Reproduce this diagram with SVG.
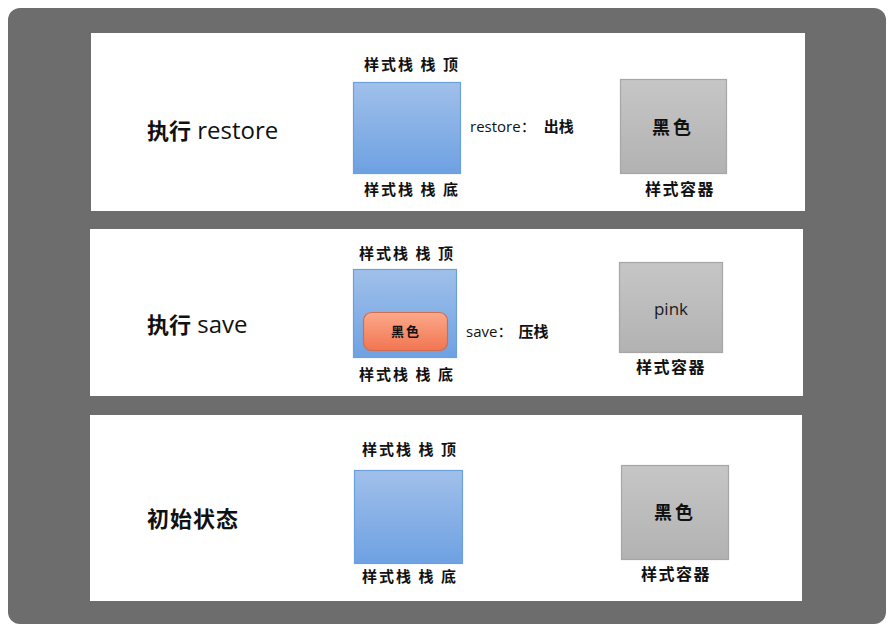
<svg xmlns="http://www.w3.org/2000/svg" width="896" height="632" viewBox="0 0 896 632">
<defs>
<linearGradient id="gBlue" x1="0" y1="0" x2="0" y2="1"><stop offset="0" stop-color="#a0c0ea"/><stop offset="1" stop-color="#6ea1e2"/></linearGradient>
<linearGradient id="gGray" x1="0" y1="0" x2="0" y2="1"><stop offset="0" stop-color="#c6c6c6"/><stop offset="1" stop-color="#b2b2b2"/></linearGradient>
<linearGradient id="gOrange" x1="0" y1="0" x2="0" y2="1"><stop offset="0" stop-color="#fba98a"/><stop offset="1" stop-color="#f27552"/></linearGradient>
</defs>
<style>
.stack{fill:url(#gBlue);stroke:#6d9fdc;stroke-width:1.2}
.box{fill:url(#gGray);stroke:#a6a6a6;stroke-width:1.2}
.item{fill:url(#gOrange);stroke:#cf6d4e;stroke-width:1.2}
.cjk{font-family:"Noto Sans CJK SC",sans-serif;font-weight:700;fill:#111}
.lbl{font-size:15px;letter-spacing:2px}
.title{font-family:"Open Sans","Noto Sans CJK SC",sans-serif;font-size:24px;fill:#111}
.tcjk{font-size:22px}
.op{font-family:"Open Sans","Noto Sans CJK SC",sans-serif;font-size:15px;fill:#111}
</style>
<rect x="0" y="0" width="896" height="632" fill="#ffffff"/>
<rect x="8" y="8" width="878" height="616" rx="12" fill="#6d6d6d"/>

<g id="panel-restore">
<rect x="91" y="33" width="714" height="178" fill="#ffffff"/>
<text class="title" x="147" y="139"><tspan class="cjk tcjk">执行</tspan> restore</text>
<rect class="stack" x="353.5" y="82.5" width="107" height="91"/>
<text class="cjk lbl" x="412" y="70" text-anchor="middle">样式栈 栈 顶</text>
<text class="cjk lbl" x="412" y="195" text-anchor="middle">样式栈 栈 底</text>
<text class="op" x="470" y="132">restore：<tspan class="cjk" dx="8">出栈</tspan></text>
<rect class="box" x="620.5" y="79.5" width="106" height="94"/>
<text class="cjk" x="673" y="134" font-size="18" letter-spacing="3" text-anchor="middle">黑色</text>
<text class="cjk" x="680" y="195" font-size="16" letter-spacing="1.5" text-anchor="middle">样式容器</text>
</g>

<g id="panel-save">
<rect x="90" y="229" width="713" height="167" fill="#ffffff"/>
<text class="title" x="147" y="333"><tspan class="cjk tcjk">执行</tspan> save</text>
<rect class="stack" x="353.5" y="269.5" width="103" height="88"/>
<rect class="item" x="363.5" y="312.5" width="84" height="38" rx="8"/>
<text class="cjk" x="406" y="336" font-size="13" letter-spacing="2" text-anchor="middle">黑色</text>
<text class="cjk lbl" x="407" y="259" text-anchor="middle">样式栈 栈 顶</text>
<text class="cjk lbl" x="407" y="380" text-anchor="middle">样式栈 栈 底</text>
<text class="op" x="466" y="337">save：<tspan class="cjk" dx="6">压栈</tspan></text>
<rect class="box" x="619.5" y="262.5" width="103" height="90"/>
<text x="671" y="315" font-family="Open Sans,sans-serif" font-size="17" fill="#1a1a1a" text-anchor="middle">pink</text>
<text class="cjk" x="671" y="373" font-size="16" letter-spacing="1.5" text-anchor="middle">样式容器</text>
</g>

<g id="panel-initial">
<rect x="90" y="415" width="712" height="186" fill="#ffffff"/>
<text class="cjk" x="147" y="527" font-size="22" letter-spacing="1">初始状态</text>
<rect class="stack" x="354.5" y="470.5" width="108" height="93"/>
<text class="cjk lbl" x="410" y="455" text-anchor="middle">样式栈 栈 顶</text>
<text class="cjk lbl" x="410" y="582" text-anchor="middle">样式栈 栈 底</text>
<rect class="box" x="621.5" y="465.5" width="107" height="94"/>
<text class="cjk" x="675" y="519" font-size="18" letter-spacing="3" text-anchor="middle">黑色</text>
<text class="cjk" x="676" y="580" font-size="16" letter-spacing="1.5" text-anchor="middle">样式容器</text>
</g>

<g id="connectors"></g>
</svg>
